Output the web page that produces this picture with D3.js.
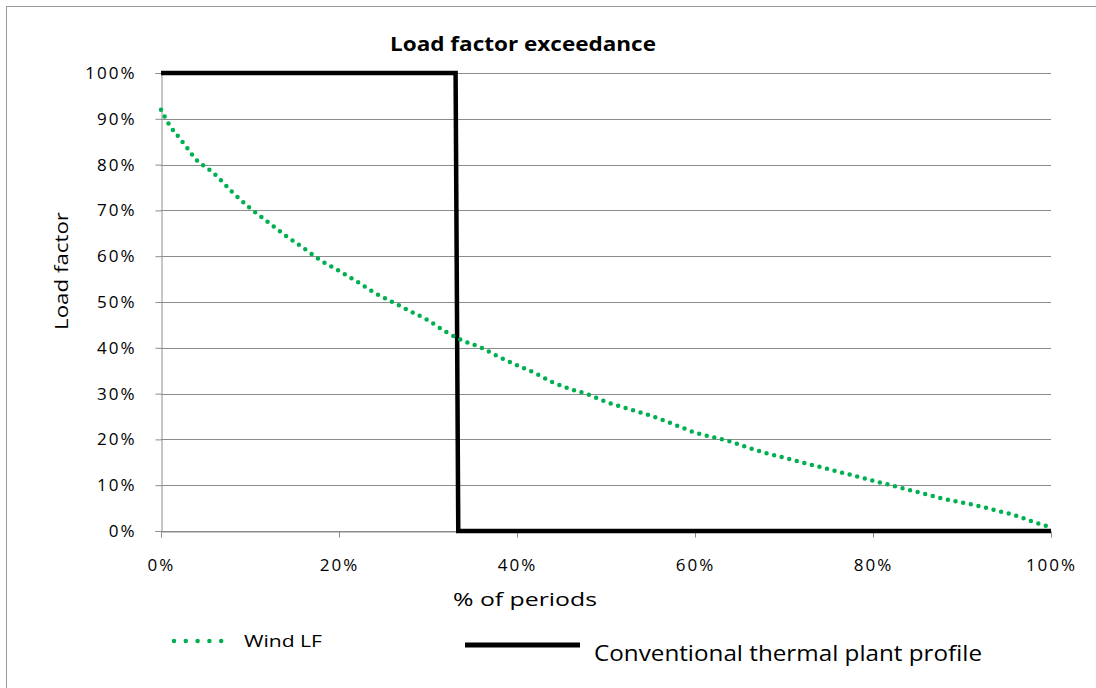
<!DOCTYPE html>
<html><head><meta charset="utf-8">
<script src="https://cdn.jsdelivr.net/npm/d3@7/dist/d3.min.js"></script>
<style>body{margin:0;background:#fff;} svg{display:block;font-family:"Open Sans","Noto Sans",sans-serif;}</style>
</head><body><svg id="c" width="1096" height="688"></svg>
<script>
const windX = [0,1,2,3,4,5,6,8,10,12,14,16,18,20,22,24,26,28,30,32,34,36,38,40,42,44,46,48,50,52,54,56,58,60,62,64,66,68,70,72,74,76,78,80,82,84,86,88,90,92,94,96,98,100];
const windY = [92,88.5,86,83.5,81,79.5,78,74,70.5,67.5,64.5,61.8,59,56.8,54.5,52,50,48,46,43.5,41.5,40,38,36.2,34.5,32.5,31,29.8,28.2,27,25.8,24.5,23,21.5,20.5,19.5,18.2,17,16,15,14,13,12,11,10,9,8,7,6.2,5.4,4.4,3.4,2,0.8];
const thermalX = [0,33.1,33.4,100];
const thermalY = [100,100,0,0];
const yTicks = [0,10,20,30,40,50,60,70,80,90,100];
const xTicks = [0,20,40,60,80,100];
const title = "Load factor exceedance";
const xTitle = "% of periods";
const yTitle = "Load factor";
const seriesNames = ["Wind LF","Conventional thermal plant profile"];

const FONT = '"Open Sans","Noto Sans",sans-serif';
const svg = d3.select("#c");
const x = d3.scaleLinear().domain([0,100]).range([161,1051]);
const y = d3.scaleLinear().domain([0,100]).range([531,73]);

svg.append("rect").attr("x",6.5).attr("y",6.5).attr("width",1200).attr("height",800)
  .attr("fill","none").attr("stroke","#999").attr("stroke-width",1);

svg.append("g").selectAll("line").data(yTicks).join("line")
  .attr("x1",x(0)).attr("x2",x(100)).attr("y1",d=>Math.round(y(d))+0.5).attr("y2",d=>Math.round(y(d))+0.5)
  .attr("stroke","#8c8c8c").attr("stroke-width",1);

const yAxis = svg.append("g").attr("transform",`translate(${x(0)+0.5},0)`)
  .call(d3.axisLeft(y).tickValues(yTicks).tickFormat(d=>d+"%").tickSize(6).tickPadding(19));
yAxis.select(".domain").attr("stroke","#8c8c8c");
yAxis.selectAll(".tick line").attr("stroke","#8c8c8c");
yAxis.selectAll("text").attr("font-size",17).attr("letter-spacing",2).attr("fill","#000").attr("font-family",FONT);

const xAxis = svg.append("g").attr("transform",`translate(0,${Math.round(y(0))+0.5})`)
  .call(d3.axisBottom(x).tickValues(xTicks).tickFormat(d=>d+"%").tickSize(6).tickPadding(21));
xAxis.select(".domain").attr("stroke","#8c8c8c");
xAxis.selectAll(".tick line").attr("stroke","#8c8c8c");
xAxis.selectAll("text").attr("font-size",17).attr("letter-spacing",2).attr("fill","#000").attr("font-family",FONT);

const line = d3.line().x(d=>x(d[0])).y(d=>y(d[1]));
svg.append("path").datum(thermalX.map((v,i)=>[v,thermalY[i]]))
  .attr("d",line).attr("fill","none").attr("stroke","#000").attr("stroke-width",4.5).attr("stroke-linejoin","miter");
svg.append("path").datum(windX.map((v,i)=>[v,windY[i]]))
  .attr("d",line.curve(d3.curveMonotoneX)).attr("fill","none").attr("stroke","#00b050").attr("stroke-width",4.5)
  .attr("stroke-linecap","round").attr("stroke-dasharray","0,7.8");

svg.append("text").attr("x",523).attr("y",51).attr("text-anchor","middle").attr("font-weight","bold")
  .attr("font-size",19).attr("textLength",266).attr("lengthAdjust","spacingAndGlyphs").text(title);
svg.append("text").attr("x",525).attr("y",606).attr("text-anchor","middle").attr("font-size",18)
  .attr("textLength",144).attr("lengthAdjust","spacingAndGlyphs").text(xTitle);
svg.append("text").attr("transform","translate(68,271) rotate(-90)").attr("text-anchor","middle").attr("font-size",18)
  .attr("textLength",118).attr("lengthAdjust","spacingAndGlyphs").text(yTitle);

svg.append("line").attr("x1",174).attr("x2",233).attr("y1",641).attr("y2",641)
  .attr("stroke","#00b050").attr("stroke-width",4.5).attr("stroke-linecap","round").attr("stroke-dasharray","0,11.8");
svg.append("text").attr("x",244).attr("y",647).attr("font-size",17).attr("textLength",78).attr("lengthAdjust","spacingAndGlyphs").text(seriesNames[0]);
svg.append("line").attr("x1",465).attr("x2",580).attr("y1",645).attr("y2",645)
  .attr("stroke","#000").attr("stroke-width",5);
svg.append("text").attr("x",594).attr("y",661).attr("font-size",21).attr("textLength",388).attr("lengthAdjust","spacingAndGlyphs").text(seriesNames[1]);
</script></body></html>
